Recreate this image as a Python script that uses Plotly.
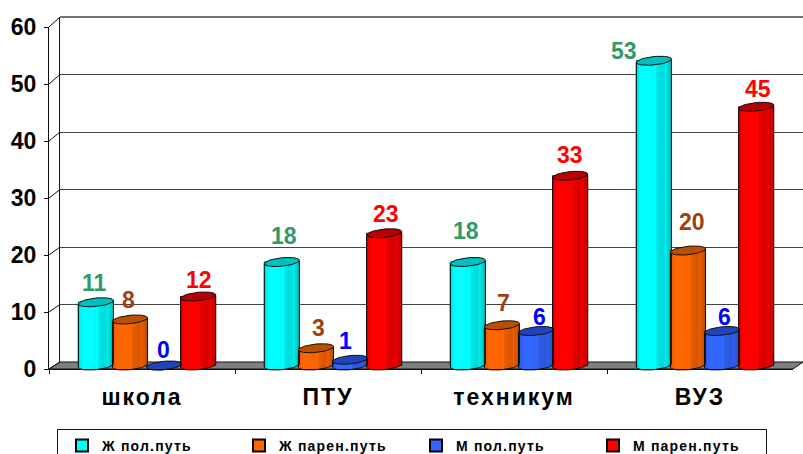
import numpy as np
import plotly.graph_objects as go

categories = ["школа", "ПТУ", "техникум", "ВУЗ"]
series_names = ["Ж пол.путь", "Ж парен.путь", "М пол.путь", "М парен.путь"]
zh_full = [11, 18, 18, 53]
zh_part = [8, 3, 7, 20]
m_full = [0, 1, 6, 6]
m_part = [12, 23, 33, 45]
series_values = [zh_full, zh_part, m_full, m_part]

W, H = 803, 454
BASE_PX, UNIT_PX, CAT_PX = 365.5, 5.75, 186.0
ORIGIN_X = 147.0
STEP = 34.1
HALF_W, ELL_B, ELL_T = 17.5, 4.2, 1.7

base_rgb = [(0, 255, 255), (255, 102, 0), (51, 102, 255), (255, 0, 0)]
top_rgb = ["#00c0c0", "#b85000", "#2244bb", "#b80000"]
label_rgb = ["#339966", "#a04010", "#0000ff", "#ff0000"]
shades = [0.86, 0.97, 1, 1, 1, 1, 1, 0.97, 1.0, 0.92, 0.88, 0.86, 0.86, 0.92, 0.84, 0.8]

label_dx = [[-1, 2, -2, -29.5], [-1, 3, 2, 4.5], [-1, -5, 3, 2.5], [1, 2, 0, 1.5]]
label_dy = [[19, 26, 31, 10], [19.5, 20, 22, 28.5], [15.5, 19, 14, 14], [16.5, 19, 21, 18]]


def py(px):
    return (H - px) / H


def px_x(px):
    return px / W


def rgb(c, f=1.0):
    return "rgb(%d,%d,%d)" % tuple(int(round(v * f)) for v in c)


def spaced(s, em):
    return '<span style="letter-spacing:%gpx">%s</span>' % (em, s)


fig = go.Figure()

fig.add_trace(go.Scatter(x=[0, 1], y=[0, 60], xaxis="x", yaxis="y", mode="markers",
                         marker=dict(opacity=0), showlegend=False, hoverinfo="skip"))

n = len(shades)
strip_u = (np.arange(n) + 0.5) / n * 2 - 1
strip_w = 2 * HALF_W / n
t = np.linspace(0, 2 * np.pi, 49)

for i, (name, vals) in enumerate(zip(series_names, series_values)):
    vals = np.array(vals, float)
    off = (i - 1.5) * STEP / CAT_PX
    cx = np.arange(4) + off
    fig.add_trace(go.Bar(x=cx, y=vals, name=name, width=2 * HALF_W / CAT_PX, xaxis="x2", yaxis="y2",
                         marker=dict(color=rgb(base_rgb[i]), line=dict(color="black", width=1)),
                         cliponaxis=False, hoverinfo="skip"))
    xs, ys, bases, cols = [], [], [], []
    for k, v in enumerate(vals):
        for u, f in zip(strip_u, shades):
            drop = (ELL_B * np.sqrt(1 - u * u) - ELL_T * u) / UNIT_PX
            xs.append(cx[k] + u * HALF_W / CAT_PX)
            bases.append(-drop)
            ys.append(v + drop)
            cols.append(rgb(base_rgb[i], f))
    fig.add_trace(go.Bar(x=xs, y=ys, base=bases, width=(strip_w + 0.4) / CAT_PX, xaxis="x2", yaxis="y2",
                         marker=dict(color=cols, line=dict(width=0)), showlegend=False,
                         cliponaxis=False, hoverinfo="skip"))
    ox, oy, tx, ty = [], [], [], []
    for k, v in enumerate(vals):
        sweep = np.linspace(np.pi, 2 * np.pi, 25)
        ex = cx[k] + HALF_W * np.cos(sweep) / CAT_PX
        ey = (ELL_B * np.sin(sweep) + ELL_T * np.cos(sweep)) / UNIT_PX
        ox += list(ex) + [cx[k] + HALF_W / CAT_PX, cx[k] - HALF_W / CAT_PX, ex[0], None]
        oy += list(ey) + [v + ey[-1], v - ey[-1], ey[0], None]
        tx += list(cx[k] + HALF_W * np.cos(t) / CAT_PX) + [None]
        ty += list(v + (ELL_B * np.sin(t) + ELL_T * np.cos(t)) / UNIT_PX) + [None]
    fig.add_trace(go.Scatter(x=ox, y=oy, xaxis="x2", yaxis="y2", mode="lines", showlegend=False,
                             line=dict(color="#101010", width=1), hoverinfo="skip", cliponaxis=False))
    fig.add_trace(go.Scatter(x=tx, y=ty, xaxis="x2", yaxis="y2", mode="lines", fill="toself",
                             fillcolor=top_rgb[i], showlegend=False,
                             line=dict(color="#101010", width=1), hoverinfo="skip", cliponaxis=False))
    for k, v in enumerate(vals):
        fig.add_annotation(x=cx[k], y=v, xref="x2", yref="y2", text=str(int(v)), showarrow=False,
                           xshift=label_dx[i][k], yshift=label_dy[i][k], xanchor="center", yanchor="middle",
                           font=dict(family="Liberation Sans", size=23, color=label_rgb[i]))

fig.add_trace(go.Scatter(x=categories, y=[0, 0, 0, 0], xaxis="x3", yaxis="y3", mode="markers",
                         marker=dict(opacity=0), showlegend=False, hoverinfo="skip"))

shapes = [dict(type="path", xref="paper", yref="paper", layer="below",
               path="M %f %f L %f %f L %f %f L %f %f Z" % (px_x(49), py(369), px_x(60), py(362),
                                                           px_x(803), py(362), px_x(793), py(369)),
               fillcolor="#808080", line=dict(color="#111", width=1)),
          dict(type="line", xref="paper", yref="paper", layer="below",
               x0=px_x(60), y0=py(17), x1=1, y1=py(17), line=dict(color="#444", width=1.4))]
for k in range(7):
    shapes.append(dict(type="line", xref="paper", yref="paper", layer="below",
                       x0=px_x(49), y0=py(369 - 57 * k), x1=px_x(60), y1=py(362 - 57.5 * k),
                       line=dict(color="#111", width=1)))

tick_font = dict(family="Liberation Sans", size=23, color="black")
fig.update_layout(
    width=W, height=H, margin=dict(l=0, r=0, t=0, b=0, autoexpand=False), autosize=False,
    paper_bgcolor="white", plot_bgcolor="rgba(0,0,0,0)", barmode="overlay",
    font=dict(family="Liberation Sans", color="black"),
    shapes=shapes, hovermode=False,
    xaxis=dict(domain=[px_x(60), 1], range=[0, 1], visible=False),
    yaxis=dict(domain=[py(362), py(17)], range=[0, 60], tickvals=list(range(0, 61, 10)), showticklabels=False,
               ticks="", showgrid=True, gridcolor="#444", gridwidth=1.4, zeroline=False,
               showline=True, linecolor="#111", linewidth=1, anchor="x"),
    xaxis2=dict(domain=[0, 1], range=[-ORIGIN_X / CAT_PX, (W - ORIGIN_X) / CAT_PX], visible=False, anchor="y2"),
    yaxis2=dict(domain=[0, 1], range=[(BASE_PX - H) / UNIT_PX, BASE_PX / UNIT_PX], visible=False, anchor="x2"),
    xaxis3=dict(domain=[px_x(49), px_x(793)], type="category", categoryorder="array", categoryarray=categories,
                range=[-0.5, 3.5], tickson="boundaries", ticks="outside", ticklen=4, tickcolor="#111",
                showline=True, linecolor="#111", linewidth=1, showgrid=False, anchor="y3",
                tickmode="array", tickvals=categories,
                ticktext=[spaced("<b>%s</b>" % c, 2) for c in categories],
                tickfont=tick_font, ticklabelstandoff=7),
    yaxis3=dict(domain=[py(369), py(27)], range=[0, 60], tickvals=list(range(0, 61, 10)),
                ticktext=["<b>%d</b>" % v for v in range(0, 61, 10)],
                ticks="outside", ticklen=4, tickcolor="#111", showline=True, linecolor="#111", linewidth=1,
                showgrid=False, zeroline=False, anchor="x3", tickfont=tick_font, ticklabelstandoff=3),
    legend=dict(orientation="h", x=px_x(57), y=py(429), xanchor="left", yanchor="top",
                bordercolor="#111", borderwidth=1, bgcolor="white", indentation=4,
                entrywidth=128, entrywidthmode="pixels", itemsizing="constant",
                font=dict(family="Liberation Sans", size=14, color="black"), traceorder="normal"),
)
for tr in fig.data:
    if getattr(tr, "name", None) in series_names:
        tr.name = spaced("<b>%s</b>" % tr.name, 1.2)
for a in fig.layout.annotations:
    a.text = "<b>%s</b>" % a.text

fig.write_html("out.html", config=dict(displayModeBar=False),
               post_script="document.body.style.margin='0';document.body.style.overflow='hidden';")
